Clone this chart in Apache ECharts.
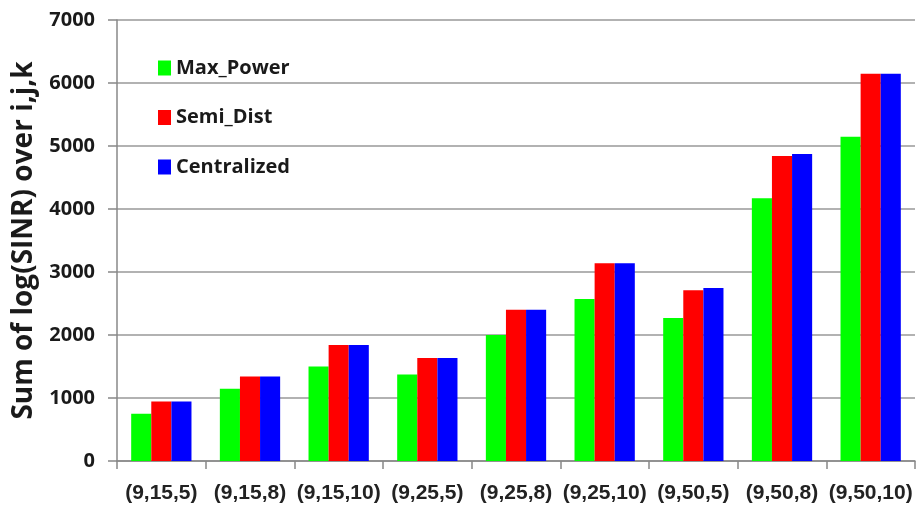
<!DOCTYPE html>
<html><head><meta charset="utf-8">
<script src="https://cdn.jsdelivr.net/npm/echarts@6/dist/echarts.min.js"></script>
<style>html,body{margin:0;padding:0;background:#fff}#c{width:920px;height:510px}</style>
</head><body><div id="c"></div>
<script>
const categories = ['(9,15,5)','(9,15,8)','(9,15,10)','(9,25,5)','(9,25,8)','(9,25,10)','(9,50,5)','(9,50,8)','(9,50,10)'];
const maxPower = [750, 1145, 1500, 1375, 2000, 2570, 2270, 4170, 5145];
const semiDist = [945, 1340, 1840, 1635, 2400, 3140, 2710, 4840, 6145];
const centralized = [945, 1340, 1840, 1635, 2400, 3140, 2745, 4875, 6145];
const yTicks = [0, 1000, 2000, 3000, 4000, 5000, 6000, 7000];

const chart = echarts.init(document.getElementById('c'));
chart.setOption({
  animation: false,
  grid: {left: 117, right: 5, top: 20, bottom: 49, containLabel: false},
  legend: {
    orient: 'vertical', left: 153, top: 53, itemGap: 29.5,
    itemWidth: 13, itemHeight: 15, icon: 'rect',
    textStyle: {fontFamily: 'Open Sans', fontWeight: 'bold', fontSize: 20, color: '#1a1a1a'},
    data: ['Max_Power', 'Semi_Dist', 'Centralized']
  },
  xAxis: {
    type: 'category', data: categories, boundaryGap: true,
    axisLine: {lineStyle: {color: '#888', width: 1.5}},
    axisTick: {show: true, length: 8, lineStyle: {color: '#888', width: 1.5}},
    axisLabel: {interval: 0, margin: 22, fontFamily: 'Liberation Sans', fontWeight: 'bold', fontSize: 21, color: '#222'}
  },
  yAxis: {
    type: 'value', min: yTicks[0], max: yTicks[yTicks.length - 1], interval: 1000,
    name: 'Sum of log(SINR) over i,j,k', nameLocation: 'middle', nameGap: 79,
    nameTextStyle: {fontFamily: 'Open Sans', fontWeight: 'bold', fontSize: 28, color: '#1a1a1a'},
    axisLine: {show: true, lineStyle: {color: '#888', width: 1.5}},
    axisTick: {show: true, length: 9, lineStyle: {color: '#888', width: 1.5}},
    splitLine: {lineStyle: {color: '#999', width: 1.5}},
    axisLabel: {margin: 22, fontFamily: 'Open Sans', fontWeight: 'bold', fontSize: 20, color: '#1a1a1a', formatter: v => String(v)}
  },
  series: [
    {name: 'Max_Power', type: 'bar', data: maxPower, itemStyle: {color: '#00ff00'}, barGap: '0%', barCategoryGap: '32%'},
    {name: 'Semi_Dist', type: 'bar', data: semiDist, itemStyle: {color: '#ff0000'}, barGap: '0%', barCategoryGap: '32%'},
    {name: 'Centralized', type: 'bar', data: centralized, itemStyle: {color: '#0000ff'}, barGap: '0%', barCategoryGap: '32%'}
  ]
});
</script></body></html>
